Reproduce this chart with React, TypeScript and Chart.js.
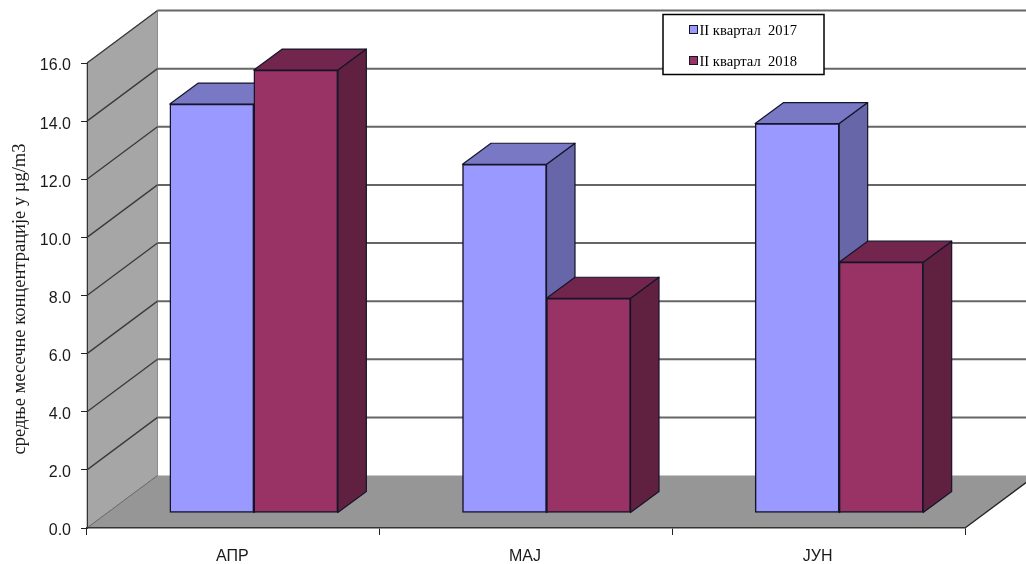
import React, { useEffect, useRef } from "react";
import { Chart, registerables } from "chart.js";

Chart.register(...registerables);

// Monthly mean concentrations by quarter
const months = ["АПР", "МАЈ", "ЈУН"];
const seriesNames = ["II квартал  2017", "II квартал  2018"];
const values2017 = [14.07, 12.0, 13.4];
const values2018 = [15.24, 7.39, 8.63];
const frontColors = ["#9999FF", "#993366"];
const topColors = ["#7878C4", "#73264D"];
const sideColors = ["#6666A8", "#60203F"];
const axisTitle = "средње месечне концентрације у µg/m3";

const SANS = "'Liberation Sans', Arial, sans-serif";
const SERIF = "'Liberation Serif', 'Times New Roman', serif";

// Projection of the chart depth: rear wall relative to the front plane
const WALL_DX = 70.5;
const WALL_DY = -52.5;
// Bars stand a little way into the floor and have their own depth
const BAR_DX = 20.5;
const BAR_DY = -15;
const DEPTH_DX = 28.5;
const DEPTH_DY = -21;

function poly(ctx: CanvasRenderingContext2D, pts: number[][], fill: string | null, stroke: string | null, lw = 1) {
  ctx.beginPath();
  pts.forEach(([x, y], i) => (i ? ctx.lineTo(x, y) : ctx.moveTo(x, y)));
  ctx.closePath();
  if (fill) {
    ctx.fillStyle = fill;
    ctx.fill();
  }
  if (stroke) {
    ctx.strokeStyle = stroke;
    ctx.lineWidth = lw;
    ctx.lineJoin = "round";
    ctx.stroke();
  }
}

function line(ctx: CanvasRenderingContext2D, pts: number[][], color: string, lw: number) {
  ctx.beginPath();
  pts.forEach(([x, y], i) => (i ? ctx.lineTo(x, y) : ctx.moveTo(x, y)));
  ctx.strokeStyle = color;
  ctx.lineWidth = lw;
  ctx.stroke();
}

// Walls, floor and gridlines behind the bars; axis title
const roomPlugin = {
  id: "room",
  beforeDraw(chart: any) {
    const { ctx, chartArea: a, scales } = chart;
    const y = scales.y;
    ctx.save();
    ctx.fillStyle = "#FFFFFF";
    ctx.fillRect(0, 0, chart.width, chart.height);
    poly(ctx, [[a.left, a.bottom], [a.left, a.top], [a.left + WALL_DX, a.top + WALL_DY], [a.left + WALL_DX, a.bottom + WALL_DY]], "#A6A6A6", "#8C8C8C", 1);
    poly(ctx, [[a.left, a.bottom], [a.right, a.bottom], [a.right + WALL_DX, a.bottom + WALL_DY], [a.left + WALL_DX, a.bottom + WALL_DY]], "#969696", null);
    y.ticks.forEach((t: any) => {
      if (t.value === 0) return;
      const py = y.getPixelForValue(t.value);
      const bx = a.left + WALL_DX;
      const by = py + WALL_DY;
      line(ctx, [[a.left, py], [bx, by]], "#3A3A3A", 1.3);
      line(ctx, [[bx, by], [chart.width + 2, by]], "#666666", 2);
    });
    line(ctx, [[a.left, a.bottom], [a.left + WALL_DX, a.bottom + WALL_DY]], "#6A6A6A", 1);
    line(ctx, [[a.right, a.bottom], [a.right + WALL_DX, a.bottom + WALL_DY]], "#222222", 1.3);
    ctx.translate(20, (a.top + a.bottom) / 2 + 3.5);
    ctx.rotate(-Math.PI / 2);
    ctx.fillStyle = "#1A1A1A";
    ctx.font = `18.5px ${SERIF}`;
    ctx.textAlign = "center";
    ctx.textBaseline = "middle";
    ctx.fillText(axisTitle, 0, 0);
    ctx.restore();
  },
  // Side and top faces first, so the front faces from the library sit over them
  beforeDatasetsDraw(chart: any) {
    const { ctx } = chart;
    ctx.save();
    chart.data.datasets.forEach((_: any, di: number) => {
      chart.getDatasetMeta(di).data.forEach((bar: any) => {
        const { x, y, base, width } = bar.getProps(["x", "y", "base", "width"], true);
        const l = x - width / 2 + BAR_DX;
        const r = x + width / 2 + BAR_DX;
        const t = y + BAR_DY;
        const b = base + BAR_DY;
        poly(ctx, [[r, t], [r + DEPTH_DX, t + DEPTH_DY], [r + DEPTH_DX, b + DEPTH_DY], [r, b]], sideColors[di], "#15152A", 1.2);
        poly(ctx, [[l, t], [l + DEPTH_DX, t + DEPTH_DY], [r + DEPTH_DX, t + DEPTH_DY], [r, t]], topColors[di], "#15152A", 1.2);
      });
    });
    ctx.restore();
    ctx.save();
    ctx.translate(BAR_DX, BAR_DY);
  },
  afterDatasetsDraw(chart: any) {
    chart.ctx.restore();
  },
};

// Boxed legend placed on the rear wall
const legendBoxPlugin = {
  id: "legendBox",
  afterDraw(chart: any) {
    const { ctx } = chart;
    ctx.save();
    ctx.fillStyle = "#FFFFFF";
    ctx.strokeStyle = "#000000";
    ctx.lineWidth = 1.5;
    ctx.fillRect(663, 14.5, 161, 60);
    ctx.strokeRect(663, 14.5, 161, 60);
    chart.data.datasets.forEach((ds: any, i: number) => {
      const top = [25, 56][i];
      ctx.fillStyle = frontColors[i];
      ctx.strokeStyle = "#15152A";
      ctx.lineWidth = 1;
      ctx.fillRect(689.5, top + 0.5, 8, 8);
      ctx.strokeRect(689.5, top + 0.5, 8, 8);
      ctx.fillStyle = "#000000";
      ctx.font = `14.6px ${SERIF}`;
      ctx.textAlign = "left";
      ctx.textBaseline = "alphabetic";
      ctx.fillText(ds.label, 699.5, [35, 66][i]);
    });
    ctx.restore();
  },
};

export default function App() {
  const canvasRef = useRef<HTMLCanvasElement>(null);

  useEffect(() => {
    const chart = new Chart(canvasRef.current!, {
      type: "bar",
      data: {
        labels: months,
        datasets: [values2017, values2018].map((data, i) => ({
          label: seriesNames[i],
          data,
          backgroundColor: frontColors[i],
          borderColor: "#15152A",
          borderWidth: 1.5,
          borderSkipped: false,
          barThickness: 84,
          clip: false as any,
        })),
      },
      options: {
        responsive: false,
        animation: false,
        layout: { padding: { top: 63, right: 61, bottom: 0, left: 0 } },
        plugins: { legend: { display: false }, title: { display: false }, tooltip: { enabled: false } },
        scales: {
          x: {
            afterFit: (s: any) => { s.height = 36; },
            grid: { drawOnChartArea: false, drawTicks: true, tickLength: 7, color: "#222222" },
            border: { display: true, color: "#333333", width: 1.5 },
            ticks: { color: "#1A1A1A", font: { family: SANS, size: 16 }, padding: 12, maxRotation: 0, labelOffset: -1 },
          },
          y: {
            min: 0,
            max: 16,
            afterFit: (s: any) => { s.width = 87; },
            grid: { drawOnChartArea: false, drawTicks: true, tickLength: 6, color: "#222222" },
            border: { display: true, color: "#333333", width: 1 },
            ticks: {
              stepSize: 2,
              color: "#1A1A1A",
              padding: 10,
              labelOffset: 3,
              font: { family: SANS, size: 16 },
              callback: (v: any) => Number(v).toFixed(1),
            },
          },
        },
      },
      plugins: [roomPlugin, legendBoxPlugin],
    } as any);
    return () => chart.destroy();
  }, []);

  return (
    <div style={{ position: "absolute", left: 0, top: 0, width: 1026, height: 564, overflow: "hidden" }}>
      <canvas ref={canvasRef} width={1026} height={564} style={{ display: "block" }} />
    </div>
  );
}
